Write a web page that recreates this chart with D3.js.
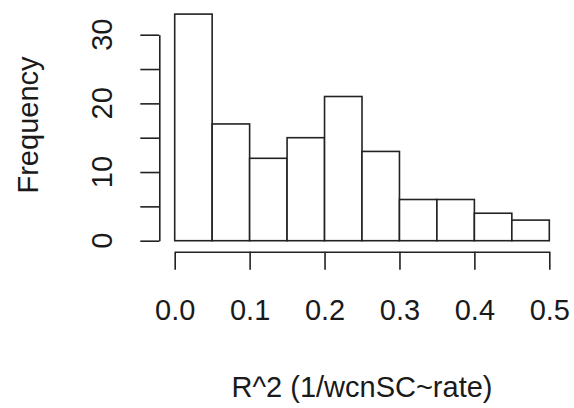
<!DOCTYPE html>
<html>
<head>
<meta charset="utf-8">
<style>
  body { margin: 0; background: #fff; }
  text { font-family: "Liberation Sans", Arial, sans-serif; fill: #1a1a1a; }
</style>
<script src="https://d3js.org/d3.v7.min.js"></script>
</head>
<body>
<script>
  // histogram bins: lower edges + counts
  let binStarts = [0.00, 0.05, 0.10, 0.15, 0.20, 0.25, 0.30, 0.35, 0.40, 0.45];
  let binWidth = 0.05;
  let counts = [33, 17, 12, 15, 21, 13, 6, 6, 4, 3];
  let xTicks = [0.0, 0.1, 0.2, 0.3, 0.4, 0.5];
  let yTicks = [0, 5, 10, 15, 20, 25, 30];
  let yLabelTicks = [0, 10, 20, 30];

  let width = 574, height = 408;

  let svg = d3.select("body").append("svg")
    .attr("width", width)
    .attr("height", height);

  let x = d3.scaleLinear().domain([0, 0.5]).range([174.7, 549.3]);
  let y = d3.scaleLinear().domain([0, 30]).range([240.7, 34.7]);

  let stroke = "#222";
  let sw = 1.6;

  // bars
  svg.append("g")
    .selectAll("rect")
    .data(counts)
    .join("rect")
      .attr("x", (d, i) => x(binStarts[i]))
      .attr("y", d => y(d))
      .attr("width", (d, i) => x(binStarts[i] + binWidth) - x(binStarts[i]))
      .attr("height", d => y(0) - y(d))
      .attr("fill", "#fff")
      .attr("stroke", stroke)
      .attr("stroke-width", sw);

  // x axis
  let xAxis = d3.axisBottom(x)
    .tickValues(xTicks)
    .tickFormat(d3.format(".1f"))
    .tickSize(18)
    .tickSizeOuter(0)
    .tickPadding(30);

  let gx = svg.append("g")
    .attr("transform", "translate(0,251.7)")
    .call(xAxis);
  gx.select(".domain").attr("stroke", stroke).attr("stroke-width", sw);
  gx.selectAll(".tick line").attr("stroke", stroke).attr("stroke-width", sw);
  gx.selectAll(".tick text")
    .attr("font-size", 29)
    .attr("font-family", "Liberation Sans, Arial, sans-serif")
    .attr("fill", "#1a1a1a")
    .attr("dy", null)
    .attr("y", 68);

  // y axis
  let yAxis = d3.axisLeft(y)
    .tickValues(yTicks)
    .tickFormat("")
    .tickSize(19)
    .tickSizeOuter(0);

  let gy = svg.append("g")
    .attr("transform", "translate(159.3,0)")
    .call(yAxis);
  gy.select(".domain").attr("stroke", stroke).attr("stroke-width", sw);
  gy.selectAll(".tick line").attr("stroke", stroke).attr("stroke-width", sw);

  // rotated y tick labels
  svg.append("g")
    .selectAll("text")
    .data(yLabelTicks)
    .join("text")
      .attr("transform", d => `translate(111.5,${y(d)}) rotate(-90)`)
      .attr("text-anchor", "middle")
      .attr("font-size", 29)
      .text(d => d);

  // axis titles
  svg.append("text")
    .attr("x", x(0.25))
    .attr("y", 397)
    .attr("text-anchor", "middle")
    .attr("font-size", 29)
    .text("R^2 (1/wcnSC~rate)");

  svg.append("text")
    .attr("transform", "translate(38.3,125) rotate(-90)")
    .attr("text-anchor", "middle")
    .attr("font-size", 29)
    .text("Frequency");
</script>
</body>
</html>
